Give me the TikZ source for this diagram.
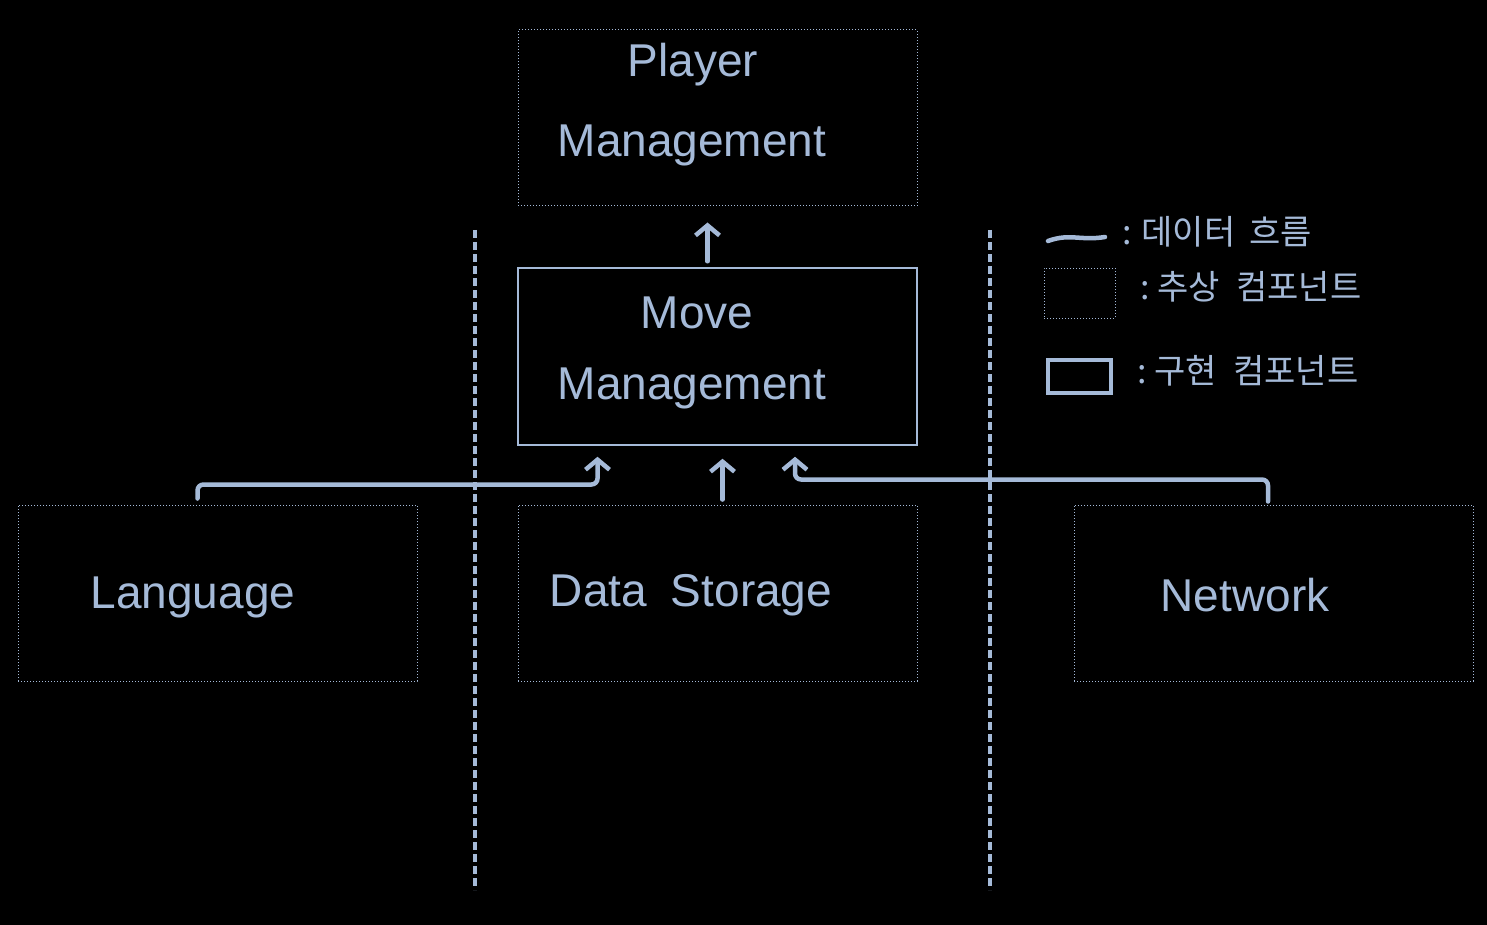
\documentclass[tikz,border=0pt]{standalone}
\usepackage{fontspec}
\setmainfont{Liberation Sans}
\newfontfamily\kr{Noto Sans CJK KR}
\usetikzlibrary{arrows.meta,calc}
\definecolor{ink}{RGB}{165,186,216}
\tikzset{
  absbox/.style={draw=ink, line width=1pt, dash pattern=on 1pt off 2pt, minimum width=399pt, minimum height=176pt, inner sep=0pt},
  implbox/.style={draw=ink, line width=1.5pt, minimum width=399pt, minimum height=177pt, inner sep=0pt},
  lbl/.style={text=ink, font=\fontsize{46}{52}\selectfont, align=center, inner sep=0pt},
  krlbl/.style={text=ink, font=\kr\fontsize{34}{38}\selectfont, anchor=west, inner sep=0pt},
  flow/.style={draw=ink, line width=4.5pt, line cap=round, line join=round, -{Straight Barb[length=10pt,width=24pt,line width=4.5pt]}},
  sep/.style={draw=ink, line width=4pt, dash pattern=on 8pt off 4pt}
}
\begin{document}
\begin{tikzpicture}[x=1pt,y=-1pt]
\fill[black] (0,0) rectangle (1487,925);
\useasboundingbox (0,0) rectangle (1487,925);
% boxes
\node[absbox] (player) at (717.5,118) {};
\node[implbox] (move) at (717.5,356.5) {};
\node[absbox] (lang) at (217.5,593) {};
\node[absbox] (data) at (717.5,593) {};
\node[absbox] (net) at (1273.5,593) {};
% texts
\node[lbl] (tplayer) at (693,65) {Player};
\node[lbl] (tpm) at (692,145) {Management};
\node[lbl] (tmove) at (697,313) {Move};
\node[lbl] (tmm) at (692,388) {Management};
\node[lbl] (tlang) at (193,597) {Language};
\node[lbl] (tdata) at (691,595) {Data\hspace{24pt}Storage};
\node[lbl] (tnet) at (1245,595) {Network};
% separators
\coordinate (s1a) at (475,230); \coordinate (s1b) at (475,890);
\coordinate (s2a) at (990,230); \coordinate (s2b) at (990,890);
\draw[sep] (s1a) -- (s1b);
\draw[sep] (s2a) -- (s2b);
% flows
\draw[flow] ([xshift=-10pt,yshift=6pt]move.north) -- ([xshift=-10pt,yshift=-16pt]player.south);
\draw[flow] ([xshift=5pt,yshift=5pt]data.north) -- ([xshift=5pt,yshift=-13pt]move.south);
\draw[flow, rounded corners=6pt] ([xshift=-20pt,yshift=6pt]lang.north) -- ++(0,-14) -| ([xshift=-120pt,yshift=-11pt]move.south);
\draw[flow, rounded corners=6pt] ([xshift=-5.5pt,yshift=3pt]net.north) -- ++(0,-22) -| ([xshift=77.5pt,yshift=-11pt]move.south);
% legend
\coordinate (la) at (1048,241); \coordinate (lb) at (1105,237);
\draw[draw=ink, line width=4.5pt, line cap=round] (la) .. controls (1070,233) and (1080,241) .. (lb);
\node[krlbl] (k1) at (1122,232) {:\hspace{10pt}데이터\hspace{14pt}흐름};
\node[draw=ink, line width=1pt, dash pattern=on 1pt off 2pt, minimum width=71pt, minimum height=50pt, inner sep=0pt] (abs) at (1079.5,293) {};
\node[krlbl] (k2) at (1140,287) {:\hspace{8pt}추상\hspace{16pt}컴포넌트};
\node[draw=ink, line width=3.5pt, minimum width=63pt, minimum height=33pt, inner sep=0pt] (impl) at (1079.5,376.5) {};
\node[krlbl] (k3) at (1137,371) {:\hspace{8pt}구현\hspace{16pt}컴포넌트};
\end{tikzpicture}
\end{document}
